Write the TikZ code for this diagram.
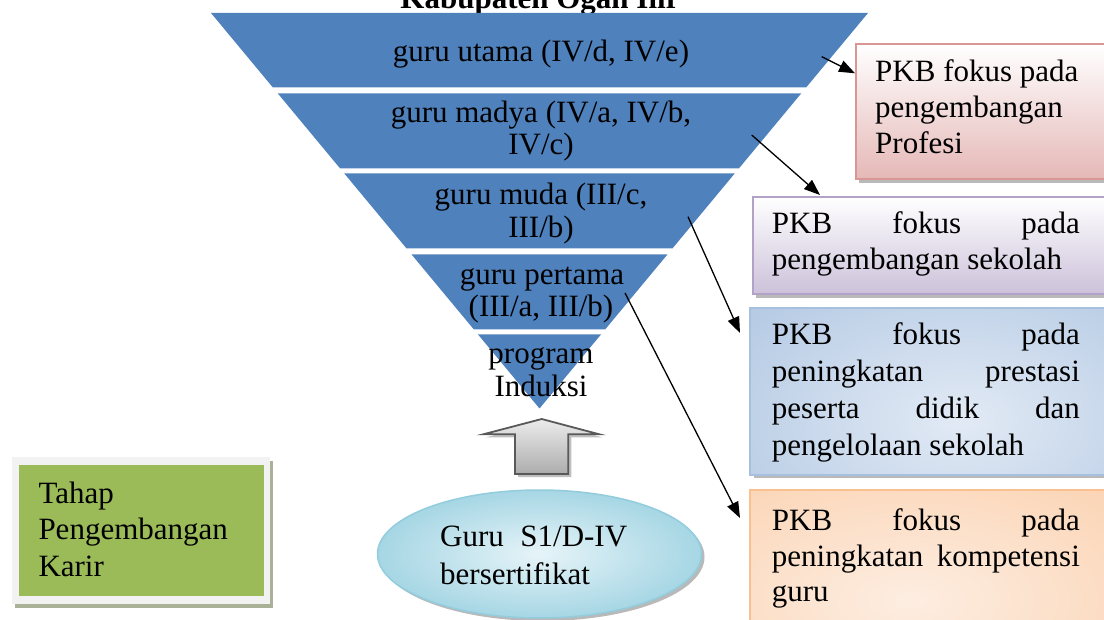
\documentclass[tikz,border=0pt]{standalone}
\usepackage{fontspec}
\setmainfont{Liberation Serif}
\usetikzlibrary{arrows.meta,shadows}
\definecolor{pyr}{HTML}{4F81BD}
\definecolor{redB}{HTML}{D99694}
\definecolor{redF}{HTML}{E5B8B7}
\definecolor{purB}{HTML}{B3A2C7}
\definecolor{purF}{HTML}{CCC1DA}
\definecolor{bluB}{HTML}{A7C0DE}
\definecolor{bluF}{HTML}{93B2D7}
\definecolor{bluL}{HTML}{E2EAF5}
\definecolor{orB}{HTML}{FAC090}
\definecolor{orF}{HTML}{F9BC89}
\definecolor{orL}{HTML}{FDEDE1}
\definecolor{grn}{HTML}{9BBB59}
\definecolor{frm}{HTML}{F2F2F2}
\definecolor{grnsh}{HTML}{A9B197}
\definecolor{cyB}{HTML}{93CDDD}
\definecolor{cyF}{HTML}{A6D6E4}
\definecolor{cyL}{HTML}{E6F4F8}
\newcommand\pyrband[2]{\fill[pyr] ({539.5-0.8306*(408.5-#1)},#1) -- ({539.5+0.8306*(408.5-#1)},#1) -- ({539.5+0.8306*(408.5-#2)},#2) -- ({539.5-0.8306*(408.5-#2)},#2) -- cycle;}
\tikzset{
  txt/.style={font=\fontsize{31}{36}\selectfont, inner sep=0pt, anchor=base},
  ltxt/.style={txt, anchor=base west},
  pkbbox/.style={anchor=north west, line width=2pt, inner sep=0pt,
    drop shadow={shadow xshift=3pt, shadow yshift=-4pt, fill=gray!55, opacity=1}},
  conn/.style={line width=1.3pt, -{Triangle[length=16pt,width=12pt]}}
}
\begin{document}
\begin{tikzpicture}[x=1pt,y=-1pt]
\useasboundingbox (0,0) rectangle (1104,620);
\clip (0,0) rectangle (1104,620);
% title (cut off at the top, as in the source)
\node[txt, font=\fontsize{31}{36}\selectfont\bfseries] (title) at (540,9) {Kabupaten Ogan Ilir};
% pyramid
\pyrband{13}{87.5}
\pyrband{93.3}{168.3}
\pyrband{173.3}{248.3}
\pyrband{254.3}{329.3}
\pyrband{334.3}{408.5}
\node[txt] (b1) at (541,62) {guru utama (IV/d, IV/e)};
\node[txt] (b2a) at (541,123) {guru madya (IV/a, IV/b,};
\node[txt] (b2b) at (541,155) {IV/c)};
\node[txt] (b3a) at (541,205) {guru muda (III/c,};
\node[txt] (b3b) at (541,238) {III/b)};
\node[txt] (b4a) at (542,285) {guru pertama};
\node[txt] (b4b) at (541,317) {(III/a, III/b)};
\node[txt] (b5a) at (541,363.5) {program};
\node[txt] (b5b) at (541,397) {Induksi};
% right boxes
\node[pkbbox, draw=redB, top color=white, bottom color=redF, minimum width=265pt, minimum height=135pt] (boxA) at (855,43) {};
\node[ltxt] (a1) at (875,82) {PKB fokus pada};
\node[ltxt] (a2) at (875,117.5) {pengembangan};
\node[ltxt] (a3) at (875,153.5) {Profesi};
\node[pkbbox, draw=purB, top color=white, bottom color=purF, minimum width=370pt, minimum height=97pt] (boxB) at (752,196) {};
\node[ltxt] (bb1) at (771.7,233.3) {\hbox to 308pt{PKB\hfill fokus\hfill pada}};
\node[ltxt] (bb2) at (771.7,270) {pengembangan sekolah};
% box C with off-centre glow
\node[pkbbox, fill=bluF, minimum width=372pt, minimum height=165pt] (boxC) at (750,308) {};
\begin{scope}
  \clip (boxC.north west) rectangle (boxC.south east);
  \shade[inner color=bluL, outer color=bluF] (960,420) ellipse [x radius=480, y radius=300];
\end{scope}
\draw[bluB, line width=2pt] (boxC.north west) rectangle (boxC.south east);
\node[ltxt] (c1) at (771.7,345) {\hbox to 308pt{PKB\hfill fokus\hfill pada}};
\node[ltxt] (c2) at (771.7,381.7) {\hbox to 308pt{peningkatan\hfill prestasi}};
\node[ltxt] (c3) at (771.7,418.3) {\hbox to 308pt{peserta\hfill didik\hfill dan}};
\node[ltxt] (c4) at (771.7,455) {pengelolaan sekolah};
% box D with off-centre glow
\node[pkbbox, fill=orF, minimum width=372pt, minimum height=145pt] (boxD) at (750,490) {};
\begin{scope}
  \clip (boxD.north west) rectangle (boxD.south east);
  \shade[inner color=orL, outer color=orF] (910,600) ellipse [x radius=580, y radius=300];
\end{scope}
\draw[orB, line width=2pt] (boxD.north west) rectangle (boxD.south east);
\node[ltxt] (d1) at (771.7,530) {\hbox to 308pt{PKB\hfill fokus\hfill pada}};
\node[ltxt] (d2) at (771.7,566.7) {\hbox to 308pt{peningkatan\hfill kompetensi}};
\node[ltxt] (d3) at (771.7,601.7) {guru};
% up block arrow
\draw[line width=1.8pt, draw=gray!70!black, top color=gray!15, bottom color=gray!65,
  drop shadow={shadow xshift=3pt, shadow yshift=-3pt, fill=gray!50, opacity=1}]
  (541.7,419) -- (599.3,434.3) -- (568.3,434.3) -- (568.3,474) -- (515,474) -- (515,434.3) -- (483.3,434.3) -- cycle;
% ellipse
\path[draw=cyB, line width=1.5pt, inner color=cyL, outer color=cyF,
  drop shadow={shadow xshift=3pt, shadow yshift=-3pt, fill=gray!55, opacity=1}]
  (539.5,554) ellipse [x radius=162, y radius=64];
\node[ltxt] (e1) at (440,546.7) {\hbox to 187pt{Guru\hfill S1/D-IV}};
\node[ltxt] (e2) at (440,584) {bersertifikat};
% green box
\node[anchor=north west, fill=frm, inner sep=0pt, minimum width=258.3pt, minimum height=147.3pt,
  drop shadow={shadow xshift=3pt, shadow yshift=-4pt, fill=grnsh, opacity=1}] (frame) at (11.7,456.7) {};
\node[anchor=north west, fill=grn, inner sep=0pt, minimum width=244.3pt, minimum height=131pt] (green) at (19,465) {};
\node[ltxt] (g1) at (38.3,503.3) {Tahap};
\node[ltxt] (g2) at (38.3,539.3) {Pengembangan};
\node[ltxt] (g3) at (38.3,576) {Karir};
% connectors
\coordinate (s1) at (821.7,56.7);
\coordinate (t1) at (855,73.3);
\coordinate (s2) at (751.7,135);
\coordinate (t2) at (820,195);
\coordinate (s3) at (688,216.7);
\coordinate (t3) at (740,333);
\coordinate (s4) at (625,293);
\coordinate (t4) at (740,518);
\draw[conn] (s1) -- (t1);
\draw[conn] (s2) -- (t2);
\draw[conn] (s3) -- (t3);
\draw[conn] (s4) -- (t4);
\end{tikzpicture}
\end{document}
